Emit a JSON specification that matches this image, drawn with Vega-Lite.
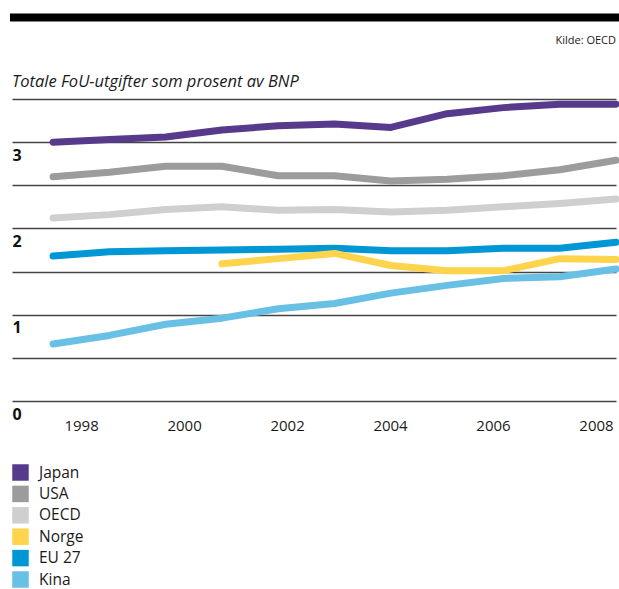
{
  "$schema": "https://vega.github.io/schema/vega-lite/v6.json",
  "width": 604,
  "height": 302,
  "autosize": {"type": "none"},
  "padding": {"left": 12, "top": 99, "right": 3, "bottom": 188},
  "background": "white",
  "config": {
    "font": "Open Sans",
    "view": {"stroke": null}
  },
  "datasets": {
    "fou": [
      {"land": "Japan", "year": 1998, "value": 3.00},
      {"land": "Japan", "year": 1999, "value": 3.03},
      {"land": "Japan", "year": 2000, "value": 3.06},
      {"land": "Japan", "year": 2001, "value": 3.14},
      {"land": "Japan", "year": 2002, "value": 3.19},
      {"land": "Japan", "year": 2003, "value": 3.21},
      {"land": "Japan", "year": 2004, "value": 3.17},
      {"land": "Japan", "year": 2005, "value": 3.33},
      {"land": "Japan", "year": 2006, "value": 3.40},
      {"land": "Japan", "year": 2007, "value": 3.44},
      {"land": "Japan", "year": 2008, "value": 3.44},
      {"land": "USA", "year": 1998, "value": 2.60},
      {"land": "USA", "year": 1999, "value": 2.65},
      {"land": "USA", "year": 2000, "value": 2.72},
      {"land": "USA", "year": 2001, "value": 2.72},
      {"land": "USA", "year": 2002, "value": 2.61},
      {"land": "USA", "year": 2003, "value": 2.61},
      {"land": "USA", "year": 2004, "value": 2.55},
      {"land": "USA", "year": 2005, "value": 2.57},
      {"land": "USA", "year": 2006, "value": 2.61},
      {"land": "USA", "year": 2007, "value": 2.68},
      {"land": "USA", "year": 2008, "value": 2.79},
      {"land": "OECD", "year": 1998, "value": 2.12},
      {"land": "OECD", "year": 1999, "value": 2.16},
      {"land": "OECD", "year": 2000, "value": 2.22},
      {"land": "OECD", "year": 2001, "value": 2.25},
      {"land": "OECD", "year": 2002, "value": 2.21},
      {"land": "OECD", "year": 2003, "value": 2.22},
      {"land": "OECD", "year": 2004, "value": 2.19},
      {"land": "OECD", "year": 2005, "value": 2.21},
      {"land": "OECD", "year": 2006, "value": 2.25},
      {"land": "OECD", "year": 2007, "value": 2.29},
      {"land": "OECD", "year": 2008, "value": 2.34},
      {"land": "EU 27", "year": 1998, "value": 1.68},
      {"land": "EU 27", "year": 1999, "value": 1.73},
      {"land": "EU 27", "year": 2000, "value": 1.74},
      {"land": "EU 27", "year": 2001, "value": 1.75},
      {"land": "EU 27", "year": 2002, "value": 1.76},
      {"land": "EU 27", "year": 2003, "value": 1.77},
      {"land": "EU 27", "year": 2004, "value": 1.74},
      {"land": "EU 27", "year": 2005, "value": 1.74},
      {"land": "EU 27", "year": 2006, "value": 1.77},
      {"land": "EU 27", "year": 2007, "value": 1.77},
      {"land": "EU 27", "year": 2008, "value": 1.84},
      {"land": "Norge", "year": 2001, "value": 1.59},
      {"land": "Norge", "year": 2002, "value": 1.65},
      {"land": "Norge", "year": 2003, "value": 1.71},
      {"land": "Norge", "year": 2004, "value": 1.57},
      {"land": "Norge", "year": 2005, "value": 1.51},
      {"land": "Norge", "year": 2006, "value": 1.51},
      {"land": "Norge", "year": 2007, "value": 1.65},
      {"land": "Norge", "year": 2008, "value": 1.64},
      {"land": "Kina", "year": 1998, "value": 0.66},
      {"land": "Kina", "year": 1999, "value": 0.76},
      {"land": "Kina", "year": 2000, "value": 0.89},
      {"land": "Kina", "year": 2001, "value": 0.96},
      {"land": "Kina", "year": 2002, "value": 1.07},
      {"land": "Kina", "year": 2003, "value": 1.13},
      {"land": "Kina", "year": 2004, "value": 1.25},
      {"land": "Kina", "year": 2005, "value": 1.34},
      {"land": "Kina", "year": 2006, "value": 1.42},
      {"land": "Kina", "year": 2007, "value": 1.44},
      {"land": "Kina", "year": 2008, "value": 1.53}
    ],
    "single": [{"k": 1}]
  },
  "layer": [
    {
      "data": {"name": "single"},
      "mark": {"type": "rule", "color": "#000000", "strokeWidth": 8, "clip": false},
      "encoding": {
        "x": {"datum": 1997.234, "type": "quantitative"},
        "x2": {"datum": 2008.053},
        "y": {"datum": 4.445, "type": "quantitative"}
      }
    },
    {
      "data": {"name": "single"},
      "mark": {"type": "text", "text": "Kilde: OECD", "align": "right", "baseline": "middle", "fontSize": 11, "color": "#1a1a1a", "clip": false},
      "encoding": {
        "x": {"datum": 2008, "type": "quantitative"},
        "y": {"datum": 4.17, "type": "quantitative"}
      }
    },
    {
      "data": {"name": "single"},
      "mark": {"type": "text", "text": "Totale FoU-utgifter som prosent av BNP", "align": "left", "baseline": "alphabetic", "fontSize": 16.5, "fontStyle": "italic", "color": "#1a1a1a", "clip": false},
      "encoding": {
        "x": {"datum": 1997.27, "type": "quantitative"},
        "y": {"datum": 3.642, "type": "quantitative"}
      }
    },
    {
      "data": {"name": "fou"},
      "mark": {"type": "line", "strokeWidth": 7, "strokeCap": "round", "strokeJoin": "round"},
      "encoding": {
        "x": {
          "field": "year",
          "type": "quantitative",
          "scale": {"domain": [1997.27, 2008], "nice": false, "zero": false},
          "axis": {
            "title": null,
            "values": [1998, 2000, 2002, 2004, 2006, 2008],
            "format": "d",
            "grid": false,
            "domain": false,
            "ticks": false,
            "tickSize": 0,
            "labelFlush": false,
            "labelOverlap": false,
            "labelPadding": 17,
            "labelBaseline": "top",
            "labelFontSize": 15,
            "labelColor": "#1a1a1a",
            "labelOffset": {"expr": "28 - (datum.value - 1998) * 4.8"}
          }
        },
        "y": {
          "field": "value",
          "type": "quantitative",
          "scale": {"domain": [0, 3.5], "nice": false, "zero": true},
          "axis": {
            "title": null,
            "values": [0, 0.5, 1, 1.5, 2, 2.5, 3, 3.5],
            "labelExpr": "datum.value % 1 === 0 ? format(datum.value, 'd') : ''",
            "grid": true,
            "gridColor": "#444444",
            "gridWidth": 1.3,
            "domain": false,
            "ticks": false,
            "tickSize": 0,
            "labelFlush": false,
            "labelOverlap": false,
            "labelAlign": "left",
            "labelBaseline": "top",
            "labelPadding": 0,
            "labelOffset": 5,
            "labelFontSize": 16,
            "labelFontWeight": "bold",
            "labelColor": "#111111"
          }
        },
        "color": {
          "field": "land",
          "type": "nominal",
          "scale": {
            "domain": ["Japan", "USA", "OECD", "Norge", "EU 27", "Kina"],
            "range": ["#583a8c", "#9c9c9c", "#cfcfcf", "#fed44c", "#0097d4", "#68c0e4"]
          },
          "legend": {
            "title": null,
            "orient": "none",
            "legendX": 0,
            "legendY": 365,
            "padding": 0,
            "symbolType": "square",
            "symbolSize": 272,
            "symbolStrokeWidth": 0,
            "symbolOpacity": 1,
            "rowPadding": 4.4,
            "labelOffset": 10,
            "labelFontSize": 15.5,
            "labelColor": "#1a1a1a",
            "encode": {"symbols": {"update": {"fill": {"scale": "color", "field": "value"}, "strokeWidth": {"value": 0}}}}
          }
        }
      }
    }
  ]
}
